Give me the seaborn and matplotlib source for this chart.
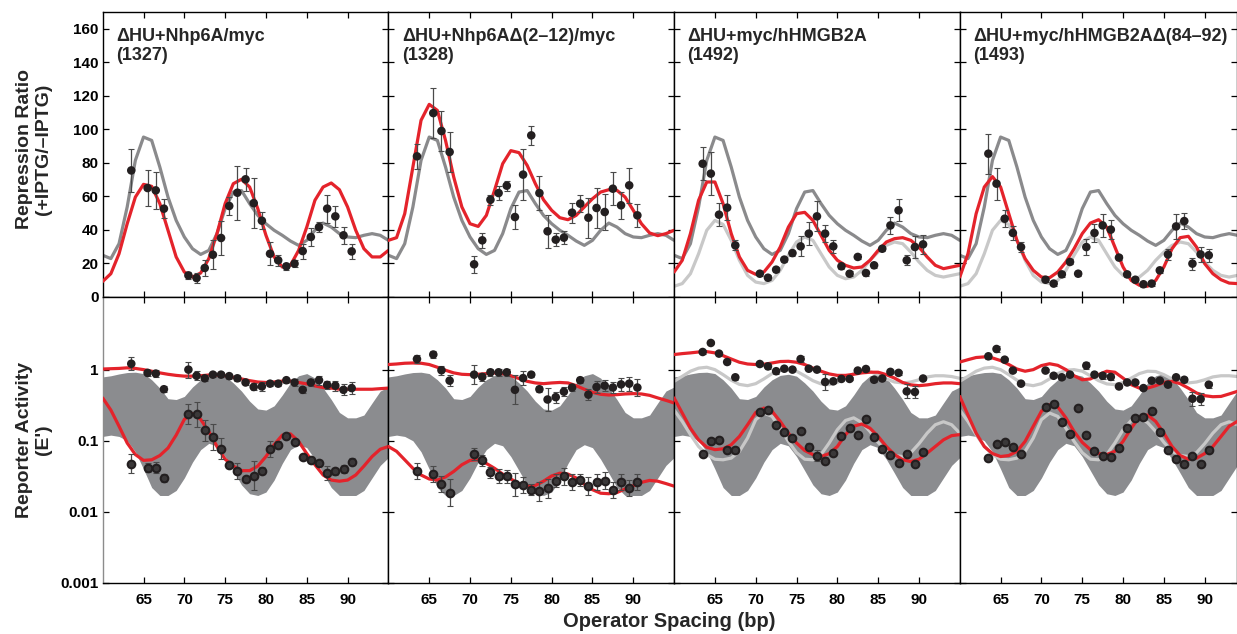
import numpy as np
import matplotlib
matplotlib.use("Agg")
import matplotlib.pyplot as plt
from matplotlib.ticker import NullLocator
import seaborn as sns

sns.set_style("ticks")
plt.rcParams["font.family"] = ["Liberation Sans", "DejaVu Sans"]
plt.rcParams["font.weight"] = "bold"
plt.rcParams["axes.linewidth"] = 1.0

RED = "#e4232b"
DARK_GREY = "#8a8a8c"
LIGHT_GREY = "#c8c8c8"
BAND = "#8b8c8f"
DOT = "#231f20"
ERR = "#4a4a4a"

# model curves are sampled at every bp
spacing = list(range(60, 96))

# ---- repression ratio (top row) ----
ratio_ref = [24.9, 22.9, 31.8, 53.7, 81.5, 95.4, 93.4, 77.5, 59.6, 45.7, 35.8, 28.8,
             25.4, 27.8, 37.8, 52.7, 62.6, 63.5, 55.7, 48.7, 43.7, 39.8, 36.8, 33.4,
             30.8, 33.8, 39.8, 44.1, 41.7, 37.8, 35.8, 35.4, 36.8, 37.8, 36.8, 33.8]
ratio_light = [6.4, 8.0, 13.9, 25.8, 39.8, 45.7, 43.3, 33.8, 21.9, 12.9, 8.9, 8.0,
               9.9, 15.9, 24.9, 32.8, 35.8, 33.8, 25.8, 17.9, 12.9, 10.9, 11.9, 15.9,
               21.9, 26.8, 30.8, 32.8, 31.8, 26.8, 20.9, 15.9, 12.9, 11.9, 12.9, 13.9]
ratio_fit_1327 = [9.3, 13.9, 25.8, 43.7, 59.6, 67.2, 66.0, 55.7, 39.8, 23.9, 14.9, 11.9,
                  14.3, 22.9, 37.8, 55.7, 67.6, 70.2, 65.6, 52.7, 36.8, 23.9, 17.9, 18.9,
                  27.8, 41.7, 57.7, 65.6, 68.0, 64.0, 53.7, 39.8, 28.8, 23.9, 23.9, 27.8]
ratio_fit_1328 = [33.8, 35.4, 49.7, 77.5, 105.4, 114.9, 111.3, 93.4, 71.6, 53.7, 43.7, 42.1,
                  48.7, 63.6, 79.5, 87.3, 86.1, 78.5, 67.6, 58.0, 51.7, 47.3, 46.1, 48.7,
                  53.7, 58.6, 62.6, 64.0, 63.6, 59.6, 51.7, 43.7, 38.2, 36.6, 37.8, 39.8]
ratio_fit_1492 = [14.9, 21.9, 37.8, 57.7, 68.6, 68.6, 55.7, 37.8, 23.9, 15.9, 13.5, 14.9,
                  20.9, 29.8, 41.7, 49.7, 50.5, 45.7, 36.8, 27.8, 21.9, 18.9, 17.3, 17.9,
                  21.9, 27.8, 32.8, 34.8, 35.4, 33.8, 29.8, 23.9, 18.9, 16.9, 17.9, 18.9]
ratio_fit_1493 = [11.9, 25.8, 49.7, 65.6, 71.8, 65.6, 49.7, 33.8, 22.9, 15.9, 11.9, 11.5,
                  14.9, 20.9, 28.8, 37.8, 44.1, 46.1, 41.7, 29.8, 17.9, 9.9, 7.0, 6.4,
                  9.9, 17.9, 28.8, 35.4, 36.2, 29.8, 19.9, 13.9, 10.3, 8.3, 8.0, 8.0]

bp_a = [63.5, 65.5, 66.5, 67.5, 70.5, 71.5, 72.5, 73.5, 74.5, 75.5, 76.5, 77.5, 78.5,
        79.5, 80.5, 81.5, 82.5, 83.5, 84.5, 85.5, 86.5, 87.5, 88.5, 89.5, 90.5]
bp_b = [63.5, 64.5, 65.5, 66.5, 67.5, 70.5, 71.5, 72.5, 73.5, 74.5, 75.5, 76.5, 77.5,
        78.5, 79.5, 80.5, 81.5, 82.5, 83.5, 84.5, 85.5, 86.5, 87.5, 88.5, 89.5, 90.5]

ratio_1327 = [75.5, 65.0, 63.6, 52.7, 12.9, 11.3, 17.3, 25.2, 35.2, 54.3, 62.2, 70.2, 56.0,
              45.5, 25.8, 21.9, 18.3, 19.9, 27.4, 35.8, 41.7, 52.7, 48.1, 36.8, 27.2]
ratio_err_1327 = [13, 11, 11, 5.5, 2, 3, 5, 8.7, 10, 5.3, 16, 7, 15, 5, 7, 3.3, 2, 2, 4.5,
                  5.5, 3, 8.3, 6.3, 5, 4.5]
ratio_1328 = [83.9, 109.7, 99.0, 86.5, 19.5, 33.8, 58.0, 62.0, 66.4, 47.7, 73.0, 96.4, 62.0,
              39.2, 34.2, 35.4, 50.3, 55.7, 47.3, 53.1, 50.7, 64.6, 54.7, 66.6, 48.7]
ratio_err_1328 = [7.5, 15, 12, 12, 5, 4.5, 3, 4, 3, 7, 15, 5.5, 10, 10, 4, 4, 6, 5, 12, 12,
                  11, 10, 8, 10.5, 7]
ratio_1492 = [79.5, 73.6, 49.1, 53.3, 30.8, 13.9, 11.5, 16.3, 22.3, 26.2, 30.2, 37.8, 48.1,
              37.8, 30.2, 18.3, 13.9, 23.9, 14.3, 18.9, 28.8, 42.7, 51.7, 21.9, 29.8, 31.4]
ratio_err_1492 = [10, 13, 7, 7.5, 3, 1.5, 1.5, 1.5, 1.5, 1.5, 6, 7, 9, 5, 4, 1.5, 1.5, 1.5,
                  1.5, 1.5, 1.5, 5, 6.5, 3, 6.5, 5.5]
ratio_1493 = [85.5, 67.6, 46.7, 38.2, 29.8, 10.3, 8.0, 13.5, 20.9, 13.9, 29.8, 38.2, 42.7,
              40.2, 23.5, 13.5, 10.3, 7.6, 8.0, 15.9, 25.4, 42.1, 45.3, 19.9, 25.4, 24.9]
ratio_err_1493 = [12, 9.5, 5, 4, 3, 1.5, 1.5, 1.5, 1.5, 1.5, 5, 5.5, 7, 5.5, 1.5, 1.5, 1.5,
                  1.5, 1.5, 1.5, 3.5, 7.5, 5, 3.5, 4.5, 4]

# ---- reporter activity (bottom row) ----
band_upper = [0.79, 0.82, 0.87, 0.91, 0.92, 0.88, 0.72, 0.55, 0.39, 0.38, 0.42, 0.57,
              0.72, 0.83, 0.86, 0.81, 0.65, 0.50, 0.36, 0.28, 0.27, 0.31, 0.44, 0.65,
              0.82, 0.88, 0.76, 0.55, 0.38, 0.25, 0.21, 0.21, 0.23, 0.34, 0.50, 0.57]
band_lower = [0.115, 0.12, 0.115, 0.10, 0.07, 0.04, 0.022, 0.017, 0.017, 0.02, 0.03, 0.05,
              0.075, 0.092, 0.085, 0.06, 0.038, 0.024, 0.018, 0.017, 0.019, 0.028, 0.048,
              0.075, 0.088, 0.08, 0.055, 0.035, 0.022, 0.017, 0.017, 0.017, 0.02, 0.03,
              0.045, 0.058]
light_hi = [0.685, 0.805, 0.95, 1.05, 1.08, 1.0, 0.85, 0.71, 0.62, 0.595, 0.635, 0.74,
            0.88, 0.98, 1.0, 0.95, 0.82, 0.70, 0.63, 0.615, 0.66, 0.76, 0.88, 0.95,
            0.94, 0.85, 0.74, 0.67, 0.65, 0.67, 0.72, 0.79, 0.82, 0.82, 0.80, 0.755]
light_lo = [0.27, 0.187, 0.122, 0.083, 0.064, 0.055, 0.054, 0.057, 0.071, 0.109, 0.198,
            0.245, 0.22, 0.15, 0.098, 0.068, 0.055, 0.054, 0.064, 0.093, 0.143, 0.193,
            0.21, 0.18, 0.135, 0.095, 0.071, 0.062, 0.06, 0.068, 0.091, 0.128, 0.168,
            0.185, 0.168, 0.128]
fit_hi_1327 = [1.02, 1.03, 1.04, 1.06, 1.04, 1.0, 0.95, 0.90, 0.86, 0.83, 0.81, 0.81,
               0.82, 0.84, 0.84, 0.82, 0.78, 0.74, 0.70, 0.67, 0.66, 0.67, 0.69, 0.69,
               0.66, 0.63, 0.59, 0.56, 0.55, 0.53, 0.53, 0.53, 0.53, 0.53, 0.54, 0.55]
fit_lo_1327 = [0.40, 0.27, 0.16, 0.093, 0.064, 0.053, 0.054, 0.062, 0.079, 0.12, 0.20,
               0.24, 0.20, 0.135, 0.083, 0.055, 0.044, 0.038, 0.038, 0.044, 0.060, 0.088,
               0.12, 0.125, 0.098, 0.066, 0.046, 0.033, 0.028, 0.027, 0.028, 0.033, 0.044,
               0.060, 0.076, 0.083]
fit_hi_1328 = [1.18, 1.2, 1.23, 1.24, 1.23, 1.18, 1.08, 0.98, 0.90, 0.86, 0.85, 0.86,
               0.88, 0.90, 0.88, 0.82, 0.75, 0.685, 0.65, 0.635, 0.65, 0.66, 0.65, 0.595,
               0.53, 0.48, 0.45, 0.44, 0.445, 0.455, 0.46, 0.455, 0.435, 0.40, 0.37, 0.34]
fit_lo_1328 = [0.083, 0.071, 0.054, 0.041, 0.033, 0.029, 0.028, 0.031, 0.037, 0.046,
               0.053, 0.054, 0.048, 0.041, 0.034, 0.029, 0.025, 0.023, 0.0235, 0.027,
               0.032, 0.035, 0.034, 0.030, 0.0245, 0.0205, 0.0183, 0.018, 0.0187, 0.021,
               0.0233, 0.026, 0.0277, 0.027, 0.025, 0.023]
fit_hi_1492 = [1.63, 1.68, 1.72, 1.77, 1.79, 1.72, 1.57, 1.41, 1.27, 1.2, 1.18, 1.19,
               1.24, 1.30, 1.31, 1.27, 1.18, 1.05, 0.95, 0.87, 0.83, 0.83, 0.86, 0.90,
               0.92, 0.92, 0.85, 0.76, 0.66, 0.61, 0.595, 0.61, 0.635, 0.65, 0.65, 0.635]
fit_lo_1492 = [0.40, 0.245, 0.15, 0.103, 0.081, 0.075, 0.077, 0.088, 0.115, 0.168, 0.25,
               0.288, 0.26, 0.187, 0.128, 0.093, 0.073, 0.064, 0.06, 0.066, 0.083, 0.122,
               0.16, 0.172, 0.15, 0.115, 0.083, 0.064, 0.054, 0.051, 0.055, 0.067, 0.083,
               0.103, 0.118, 0.122]
fit_hi_1493 = [1.28, 1.38, 1.48, 1.51, 1.46, 1.34, 1.18, 1.02, 0.95, 1.0, 1.14, 1.21,
               1.15, 1.0, 0.82, 0.72, 0.74, 0.85, 0.95, 0.92, 0.76, 0.615, 0.55, 0.55,
               0.595, 0.66, 0.685, 0.635, 0.55, 0.47, 0.43, 0.416, 0.42, 0.455, 0.495, 0.52]
fit_lo_1493 = [0.42, 0.23, 0.128, 0.083, 0.066, 0.06, 0.062, 0.071, 0.098, 0.16, 0.26,
               0.32, 0.30, 0.21, 0.135, 0.095, 0.075, 0.066, 0.064, 0.071, 0.098, 0.15,
               0.215, 0.23, 0.187, 0.128, 0.083, 0.062, 0.055, 0.057, 0.066, 0.083, 0.115,
               0.16, 0.187, 0.2]

act_hi_1327 = [1.21, 0.90, 0.88, 0.53, 1.0, 0.82, 0.755, 0.85, 0.85, 0.81, 0.755, 0.66, 0.57,
               0.58, 0.635, 0.635, 0.71, 0.66, 0.52, 0.66, 0.71, 0.61, 0.595, 0.52, 0.55]
act_hi_err_1327 = [1.24, 1.1, 1.12, 1.1, 1.3, 1.15, 1.1, 1.08, 1.08, 1.08, 1.1, 1.08, 1.12,
                   1.15, 1.08, 1.08, 1.08, 1.12, 1.1, 1.12, 1.15, 1.15, 1.18, 1.2, 1.2]
act_lo_1327 = [0.0476, 0.042, 0.042, 0.030, 0.237, 0.237, 0.14, 0.113, 0.077, 0.046, 0.038,
               0.029, 0.032, 0.038, 0.077, 0.088, 0.115, 0.096, 0.059, 0.054, 0.048, 0.035,
               0.037, 0.040, 0.051]
act_lo_err_1327 = [1.35, 1.15, 1.2, 1.15, 1.4, 1.5, 1.4, 1.5, 1.4, 1.1, 1.3, 1.1, 1.6, 1.12,
                   1.3, 1.12, 1.08, 1.1, 1.1, 1.1, 1.1, 1.25, 1.12, 1.15, 1.12]
act_hi_1328 = [1.41, 1.63, 0.98, 0.70, 0.85, 0.79, 0.917, 0.917, 0.917, 0.52, 0.76, 0.85,
               0.53, 0.38, 0.41, 0.49, 0.56, 0.71, 0.445, 0.57, 0.595, 0.56, 0.62, 0.635, 0.56]
act_hi_err_1328 = [1.15, 1.12, 1.15, 1.2, 1.35, 1.15, 1.12, 1.12, 1.12, 1.6, 1.25, 1.08, 1.1,
                   1.45, 1.2, 1.15, 1.12, 1.1, 1.2, 1.2, 1.2, 1.2, 1.25, 1.25, 1.3]
act_lo_1328 = [0.038, 0.034, 0.0245, 0.0187, 0.065, 0.053, 0.036, 0.032, 0.0315, 0.0245,
               0.024, 0.0205, 0.0194, 0.0214, 0.0276, 0.0315, 0.026, 0.028, 0.023, 0.026,
               0.0276, 0.0205, 0.026, 0.0217, 0.0265]
act_lo_err_1328 = [1.3, 1.3, 1.3, 1.55, 1.2, 1.2, 1.2, 1.25, 1.25, 1.45, 1.3, 1.2, 1.35,
                   1.35, 1.25, 1.3, 1.3, 1.2, 1.35, 1.3, 1.3, 1.3, 1.3, 1.3, 1.3]
act_hi_1492 = [1.77, 2.37, 1.68, 1.28, 0.78, 1.2, 1.11, 0.95, 1.03, 1.0, 1.41, 1.03, 1.0,
               0.67, 0.685, 0.74, 0.74, 0.97, 1.02, 0.72, 0.75, 0.93, 0.90, 0.495, 0.485, 0.75]
act_hi_err_1492 = [1.08, 1.05, 1.05, 1.05, 1.08, 1.05, 1.1, 1.08, 1.05, 1.05, 1.1, 1.05,
                   1.05, 1.3, 1.05, 1.05, 1.05, 1.05, 1.05, 1.08, 1.05, 1.05, 1.08, 1.25,
                   1.2, 1.05]
act_lo_1492 = [0.066, 0.098, 0.103, 0.073, 0.075, 0.253, 0.27, 0.165, 0.133, 0.111, 0.138,
               0.082, 0.062, 0.052, 0.067, 0.118, 0.15, 0.122, 0.204, 0.113, 0.076, 0.064,
               0.049, 0.066, 0.047, 0.069]
act_lo_err_1492 = [1.08, 1.1, 1.1, 1.1, 1.05, 1.05, 1.05, 1.05, 1.05, 1.05, 1.05, 1.12,
                   1.2, 1.12, 1.05, 1.05, 1.05, 1.05, 1.05, 1.12, 1.05, 1.05, 1.05, 1.08,
                   1.05, 1.05]
act_hi_1493 = [1.54, 1.95, 1.38, 0.97, 0.635, 0.97, 0.82, 0.78, 0.85, np.nan, 1.14, 0.85,
               0.82, 0.79, 0.58, 0.66, 0.66, 0.55, 0.70, 0.70, 0.615, 0.78, 0.72, 0.39,
               0.386, 0.615]
act_hi_err_1493 = [1.08, 1.1, 1.05, 1.05, 1.05, 1.05, 1.05, 1.05, 1.05, 1.0, 1.12, 1.08,
                   1.1, 1.1, 1.05, 1.05, 1.05, 1.05, 1.05, 1.05, 1.08, 1.05, 1.08, 1.25,
                   1.2, 1.1]
act_lo_1493 = [0.057, 0.09, 0.095, 0.081, 0.066, 0.30, 0.33, 0.183, 0.126, 0.288, 0.119,
               0.071, 0.062, 0.06, 0.079, 0.15, 0.21, 0.215, 0.26, 0.133, 0.075, 0.056,
               0.047, 0.062, 0.047, 0.075]
act_lo_err_1493 = [1.05, 1.05, 1.05, 1.05, 1.05, 1.08, 1.05, 1.05, 1.05, 1.05, 1.05, 1.05,
                   1.08, 1.05, 1.05, 1.05, 1.05, 1.05, 1.05, 1.05, 1.05, 1.05, 1.05, 1.05,
                   1.05, 1.05]

titles = ["\u0394HU+Nhp6A/myc\n(1327)", "\u0394HU+Nhp6A\u0394(2\u201312)/myc\n(1328)",
          "\u0394HU+myc/hHMGB2A\n(1492)", "\u0394HU+myc/hHMGB2A\u0394(84\u201392)\n(1493)"]
x_right = [95, 95, 95, 94]
show_light = [False, False, True, True]

panels = [
    (bp_a, ratio_1327, ratio_err_1327, ratio_fit_1327,
     act_hi_1327, act_hi_err_1327, act_lo_1327, act_lo_err_1327, fit_hi_1327, fit_lo_1327),
    (bp_a, ratio_1328, ratio_err_1328, ratio_fit_1328,
     act_hi_1328, act_hi_err_1328, act_lo_1328, act_lo_err_1328, fit_hi_1328, fit_lo_1328),
    (bp_b, ratio_1492, ratio_err_1492, ratio_fit_1492,
     act_hi_1492, act_hi_err_1492, act_lo_1492, act_lo_err_1492, fit_hi_1492, fit_lo_1492),
    (bp_b, ratio_1493, ratio_err_1493, ratio_fit_1493,
     act_hi_1493, act_hi_err_1493, act_lo_1493, act_lo_err_1493, fit_hi_1493, fit_lo_1493),
]

W, H = 1237, 634
fig = plt.figure(figsize=(W / 100, H / 100), dpi=100)

px_per_bp = 285.7 / 35
top_y0, top_y1 = 297, 12
bot_y0, bot_y1 = 583, 297


def style_axis(ax):
    ax.tick_params(axis="both", which="both", direction="in", top=True, right=True,
                   length=4, width=0.9, labelsize=11, colors="black")
    for spine in ax.spines.values():
        spine.set_visible(True)
        spine.set_color("black")
        spine.set_linewidth(1.0)


def draw_points(ax, x, y, yerr, ring=False):
    ax.errorbar(x, y, yerr=yerr, fmt="none", ecolor=ERR, elinewidth=0.9,
                capsize=2, capthick=0.8, zorder=4)
    if ring:
        # the low-activity points are dark rings with a slightly lighter middle
        sns.scatterplot(x=x, y=y, ax=ax, color="#3a3839", s=30, edgecolor=DOT,
                        linewidth=1.5, zorder=5, legend=False)
    else:
        sns.scatterplot(x=x, y=y, ax=ax, color=DOT, s=38, edgecolor="none",
                        linewidth=0, zorder=5, legend=False)


for i, (bp, ratio, ratio_err, ratio_fit, a_hi, a_hi_err, a_lo, a_lo_err,
        f_hi, f_lo) in enumerate(panels):
    left = 102.7 + i * 285.7
    width = (x_right[i] - 60) * px_per_bp

    # top: repression ratio
    ax = fig.add_axes([left / W, 1 - top_y0 / H, width / W, (top_y0 - top_y1) / H])
    if show_light[i]:
        sns.lineplot(x=spacing, y=ratio_light, ax=ax, color=LIGHT_GREY, lw=2.3, zorder=2)
    sns.lineplot(x=spacing, y=ratio_ref, ax=ax, color=DARK_GREY, lw=2.3, zorder=2)
    sns.lineplot(x=spacing, y=ratio_fit, ax=ax, color=RED, lw=2.3, zorder=3)
    draw_points(ax, bp, ratio, ratio_err)
    ax.set_xlim(60, x_right[i])
    ax.set_ylim(0, 170)
    ax.set_yticks(range(0, 161, 20))
    ax.set_xticks([65, 70, 75, 80, 85, 90])
    ax.set_xticklabels([])
    if i > 0:
        ax.set_yticklabels([])
    ax.set_xlabel("")
    ax.set_ylabel("")
    ax.text(0.047, 0.945, titles[i], transform=ax.transAxes, ha="left", va="top",
            fontsize=13, fontweight="bold", linespacing=1.2)
    style_axis(ax)
    ax.tick_params(axis="y", pad=3)

    # bottom: reporter activity
    ax = fig.add_axes([left / W, 1 - bot_y0 / H, width / W, (bot_y0 - bot_y1) / H])
    ax.set_yscale("log")
    ax.fill_between(spacing, band_lower, band_upper, color=BAND, lw=0, zorder=1)
    if show_light[i]:
        sns.lineplot(x=spacing, y=light_hi, ax=ax, color=LIGHT_GREY, lw=2.3, zorder=2)
        sns.lineplot(x=spacing, y=light_lo, ax=ax, color=LIGHT_GREY, lw=2.3, zorder=2)
    sns.lineplot(x=spacing, y=f_hi, ax=ax, color=RED, lw=2.3, zorder=3)
    sns.lineplot(x=spacing, y=f_lo, ax=ax, color=RED, lw=2.3, zorder=3)
    for vals, fac, ring in ((a_hi, a_hi_err, False), (a_lo, a_lo_err, True)):
        v = np.array(vals, dtype=float)
        f = np.array(fac, dtype=float)
        draw_points(ax, bp, v, [v - v / f, v * f - v], ring=ring)
    ax.set_xlim(60, x_right[i])
    ax.set_ylim(0.001, 10.5)
    ax.set_yticks([0.001, 0.01, 0.1, 1])
    ax.yaxis.set_minor_locator(NullLocator())
    ax.set_xticks([65, 70, 75, 80, 85, 90])
    ax.set_xticklabels(["65", "70", "75", "80", "85", "90"])
    if i == 0:
        ax.set_yticklabels(["0.001", "0.01", "0.1", "1"])
    else:
        ax.set_yticklabels([])
    ax.set_xlabel("")
    ax.set_ylabel("")
    style_axis(ax)
    if i == 0:
        ax.spines["left"].set_color("#8c8c8c")
    ax.tick_params(axis="x", pad=7)
    ax.tick_params(axis="y", pad=3)

fig.text(34 / W, 1 - 149 / H, "Repression Ratio\n(+IPTG/\u2013IPTG)", rotation=90,
         ha="center", va="center", fontsize=14, fontweight="bold", linespacing=1.1)
fig.text(34 / W, 1 - 440 / H, "Reporter Activity\n(E')", rotation=90,
         ha="center", va="center", fontsize=14, fontweight="bold", linespacing=1.1)
fig.text(669 / W, 7 / H, "Operator Spacing (bp)", ha="center", va="baseline",
         fontsize=14.5, fontweight="bold")

fig.savefig("out.png", dpi=100)
